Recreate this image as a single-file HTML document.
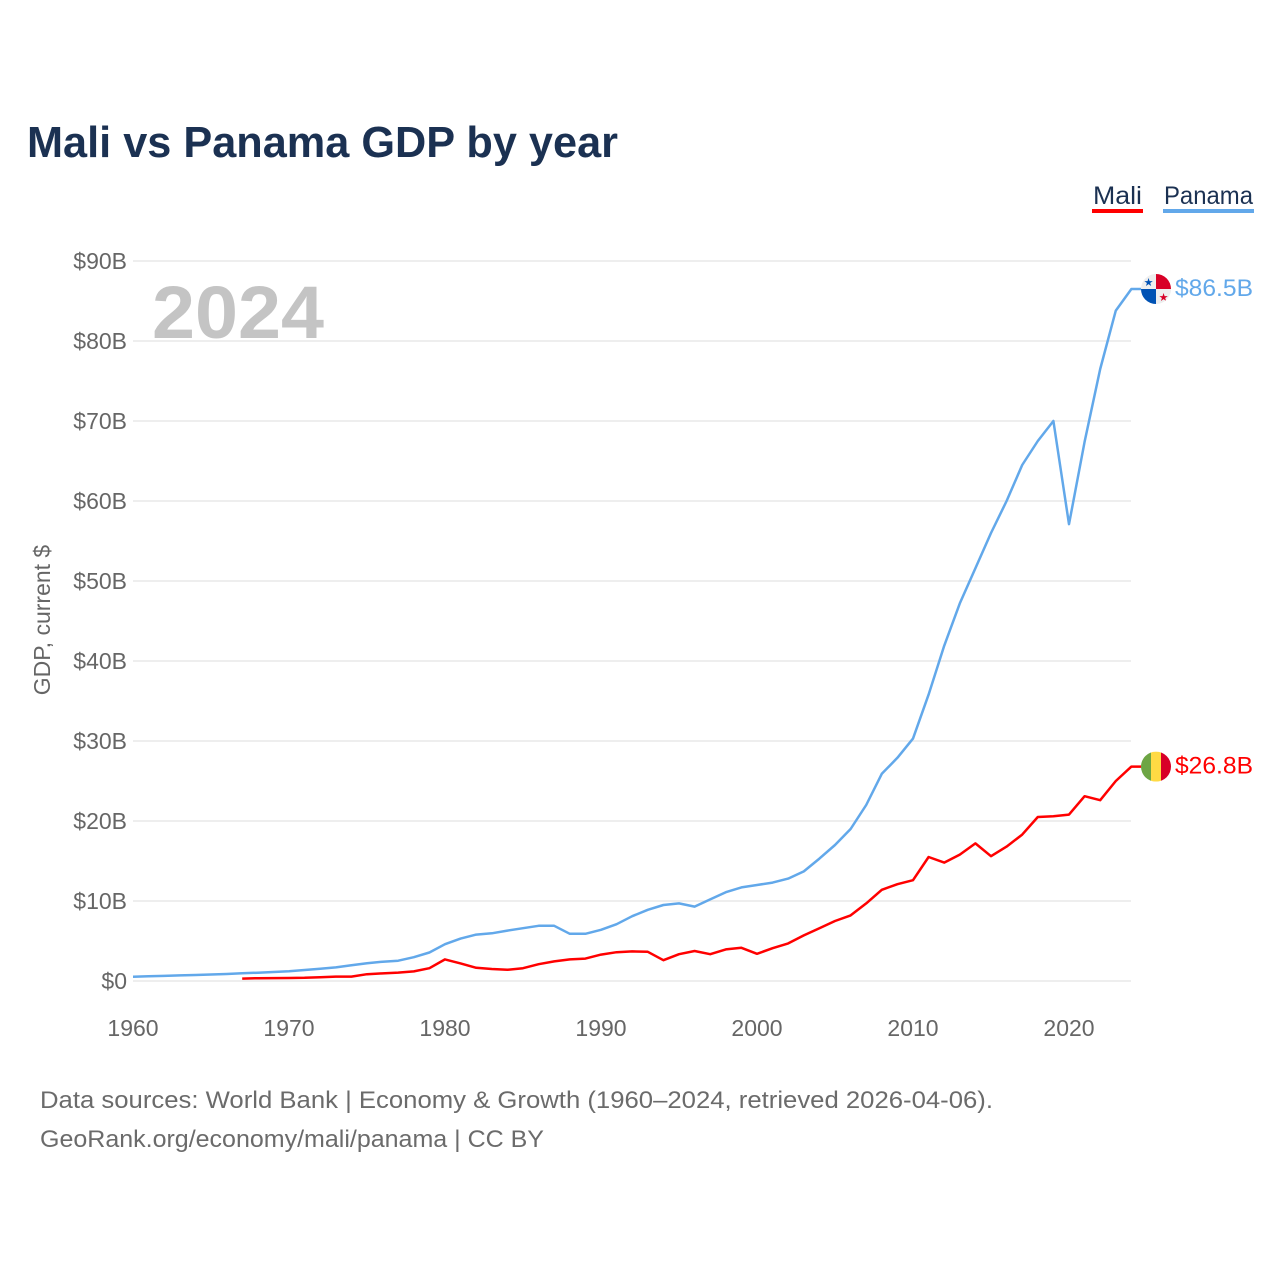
<!DOCTYPE html>
<html><head><meta charset="utf-8"><style>
html,body{margin:0;padding:0;background:#fff;}
body{width:1280px;height:1280px;overflow:hidden;font-family:"Liberation Sans",sans-serif;}
</style></head><body>
<svg id="chart" width="1280" height="1280" xmlns="http://www.w3.org/2000/svg">
<text x="27" y="157" font-size="44" font-weight="bold" fill="#1b3152" textLength="591" lengthAdjust="spacingAndGlyphs">Mali vs Panama GDP by year</text>
<g>
<g><text x="1093" y="204" font-size="25" fill="#1b3152" textLength="49" lengthAdjust="spacingAndGlyphs">Mali</text><rect x="1092" y="209" width="51" height="4" fill="#ff0000"/></g>
<g><text x="1164" y="204" font-size="25" fill="#1b3152" textLength="89" lengthAdjust="spacingAndGlyphs">Panama</text><rect x="1163" y="209" width="91" height="4" fill="#62a8ea"/></g>
</g>
<g id="grid"></g>
<g id="yticks"></g>
<g id="xticks"></g>
<text x="238" y="338" font-size="74" font-weight="bold" fill="#c4c4c4" text-anchor="middle" textLength="172" lengthAdjust="spacingAndGlyphs">2024</text>
<text transform="translate(50,620) rotate(-90)" font-size="23" fill="#666" text-anchor="middle">GDP, current $</text>
<g id="series"></g>
<text x="40" y="1108" font-size="24" fill="#6b6b6b" textLength="953" lengthAdjust="spacingAndGlyphs">Data sources: World Bank | Economy &amp; Growth (1960–2024, retrieved 2026-04-06).</text>
<text x="40" y="1147" font-size="24" fill="#6b6b6b" textLength="504" lengthAdjust="spacingAndGlyphs">GeoRank.org/economy/mali/panama | CC BY</text>
</svg>
<script>
const years = [];for(let y=1960;y<=2024;y++)years.push(y);
const panama = [0.54,0.59,0.64,0.7,0.75,0.81,0.88,0.96,1.04,1.13,1.22,1.37,1.53,1.7,1.98,2.21,2.41,2.54,2.97,3.56,4.6,5.3,5.8,5.96,6.3,6.6,6.9,6.9,5.9,5.9,6.4,7.1,8.1,8.9,9.5,9.7,9.3,10.2,11.1,11.7,12.0,12.3,12.8,13.7,15.3,17.0,19.0,22.0,25.9,27.9,30.3,35.8,41.9,47.2,51.6,56.0,60.0,64.5,67.5,70.0,57.1,67.4,76.5,83.8,86.5];
const maliStart = 1967;
const mali = [0.3,0.35,0.36,0.37,0.4,0.48,0.55,0.55,0.85,0.95,1.05,1.2,1.6,2.7,2.2,1.65,1.5,1.4,1.6,2.1,2.45,2.7,2.8,3.3,3.6,3.7,3.65,2.6,3.35,3.75,3.35,3.95,4.15,3.4,4.1,4.7,5.7,6.6,7.5,8.2,9.7,11.4,12.1,12.6,15.5,14.8,15.8,17.2,15.6,16.8,18.3,20.5,20.6,20.8,23.1,22.6,25.0,26.8];
const yTicks = [0,10,20,30,40,50,60,70,80,90];
const yTickLabels = ["$0","$10B","$20B","$30B","$40B","$50B","$60B","$70B","$80B","$90B"];
const xTicks = [1960,1970,1980,1990,2000,2010,2020];
const endLabels = ["$86.5B","$26.8B"];

const NS="http://www.w3.org/2000/svg";
const X=y=>133+(y-1960)*15.6;
const Y=v=>981-v*8;
function mk(tag,attrs,parent,txt){const e=document.createElementNS(NS,tag);for(const k in attrs)e.setAttribute(k,attrs[k]);if(txt!==undefined)e.textContent=txt;parent.appendChild(e);return e;}
const grid=document.getElementById('grid'),yt=document.getElementById('yticks'),xt=document.getElementById('xticks'),ser=document.getElementById('series');
yTicks.forEach((v,i)=>{
  const l=mk('line',{x1:133,x2:1131,y1:Y(v),y2:Y(v),stroke:'#e8e8e8','stroke-width':1.5},grid);
  
  
  const t=mk('text',{x:127,y:Y(v)+8,'font-size':23,fill:'#666','text-anchor':'end'},yt,yTickLabels[i]);
  
  
});
xTicks.forEach(v=>{
  const t=mk('text',{x:X(v),y:1036,'font-size':23,fill:'#666','text-anchor':'middle'},xt,String(v));
  
  
});
function line(vals,start,color,name){
  let d='';vals.forEach((v,i)=>{d+=(i?'L':'M')+X(start+i).toFixed(1)+','+Y(v).toFixed(1);});
  const last=vals[vals.length-1];
  d+='L'+(X(start+vals.length-1)+10).toFixed(1)+','+Y(last).toFixed(1);
  const p=mk('path',{d:d,fill:'none',stroke:color,'stroke-width':2.5,'stroke-linejoin':'round'},ser);
  
  
  return Y(last);
}
const py=line(panama,1960,'#62a8ea','panama-line');
const my=line(mali,maliStart,'#ff0000','mali-line');
const pf=mk('g',{},ser);


const cx=1156;
mk('clipPath',{id:'cp1'},pf);mk('circle',{cx:cx,cy:py,r:15},pf.lastChild);
const pg=mk('g',{'clip-path':'url(#cp1)'},pf);
mk('rect',{x:cx-15,y:py-15,width:30,height:30,fill:'#eee'},pg);
mk('rect',{x:cx,y:py-15,width:15,height:15,fill:'#d80027'},pg);
mk('rect',{x:cx-15,y:py,width:15,height:15,fill:'#0052b4'},pg);
mk('text',{x:cx-7.5,y:py-3,'font-size':11,fill:'#0052b4','text-anchor':'middle'},pg,'★');
mk('text',{x:cx+7.5,y:py+12,'font-size':11,fill:'#d80027','text-anchor':'middle'},pg,'★');
const mf=mk('g',{},ser);


mk('clipPath',{id:'cp2'},mf);mk('circle',{cx:cx,cy:my,r:15},mf.lastChild);
const mg=mk('g',{'clip-path':'url(#cp2)'},mf);
mk('rect',{x:cx-15,y:my-15,width:10,height:30,fill:'#6da544'},mg);
mk('rect',{x:cx-5,y:my-15,width:10,height:30,fill:'#ffda44'},mg);
mk('rect',{x:cx+5,y:my-15,width:10,height:30,fill:'#d80027'},mg);
const l1=mk('text',{x:1175,y:py+7,'font-size':24,fill:'#62a8ea',textLength:78,lengthAdjust:'spacingAndGlyphs'},ser,endLabels[0]);


const l2=mk('text',{x:1175,y:my+7,'font-size':24,fill:'#ff0000',textLength:78,lengthAdjust:'spacingAndGlyphs'},ser,endLabels[1]);


</script>
</body></html>
